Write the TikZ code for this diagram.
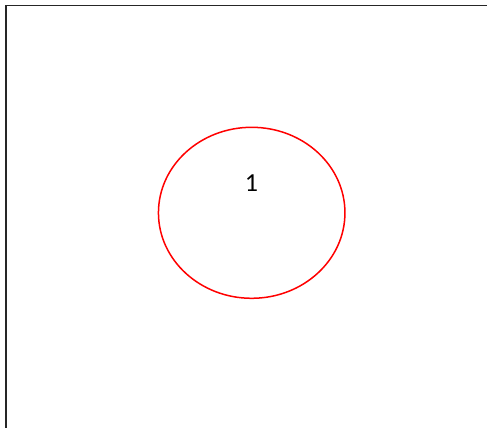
\documentclass[tikz,border=0pt]{standalone}
\usepackage{fontspec}
\setmainfont{Carlito}
\usetikzlibrary{shapes.geometric}
\begin{document}
\begin{tikzpicture}[x=1pt,y=-1pt,
  frame/.style={draw=black!85,line width=1.3pt},
  ring/.style={draw=red,line width=1.5pt,ellipse,minimum width=186.5pt,minimum height=171pt,inner sep=0pt},
  lbl/.style={font=\fontsize{26}{30}\selectfont,text=black}]
\useasboundingbox (0,0) rectangle (487,428);
\coordinate (fb) at (6,440);
\coordinate (ft) at (6,5.5);
\coordinate (fr) at (500,5.5);
\draw[frame] (fb) -- (ft) -- (fr);
\node[ring] (e) at (251.7,212.8) {};
\node[lbl] (one) at (251.5,183) {1};
\end{tikzpicture}
\end{document}
